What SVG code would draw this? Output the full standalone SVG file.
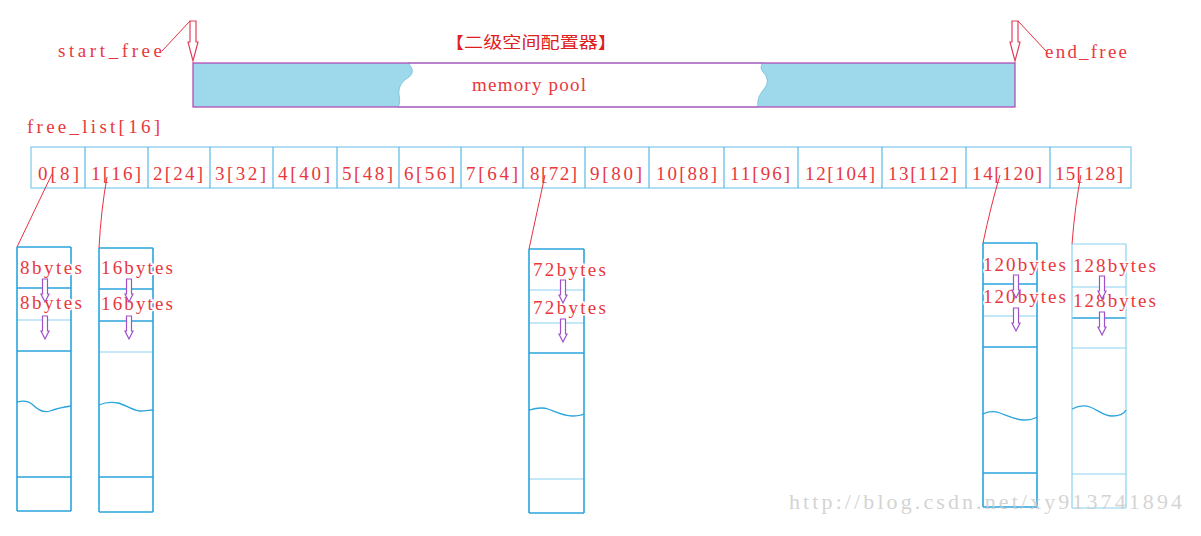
<svg xmlns="http://www.w3.org/2000/svg" xmlns:xlink="http://www.w3.org/1999/xlink" width="1201" height="536" viewBox="0 0 1201 536">
<style>
.t{font-family:"Liberation Serif",serif;font-size:19px;fill:#e8383d;}
.tb{font-family:"Liberation Serif",serif;font-size:19px;fill:#e8383d;stroke:#fff;stroke-width:3px;paint-order:stroke;}
.cell{fill:#fff;stroke:#7cc9ea;stroke-width:1.2;}
.ln{stroke:#2aa4dc;stroke-width:1.6;fill:none;}
.lt{stroke:#8ad2f0;stroke-width:1.2;fill:none;}
.wv{stroke:#2aa4dc;stroke-width:1.3;fill:none;}
.con{stroke:#e83040;stroke-width:1;fill:none;}
.ptr{fill:#fff;stroke:#e0405a;stroke-width:1.2;}
.arr{fill:#fff;stroke:#a050c8;stroke-width:1.2;}
</style>
<defs>
<path id="dn" d="M-2.5,0 H2.5 V15 H4 L0,23 L-4,15 H-2.5 Z"/>
</defs>
<rect width="1201" height="536" fill="#fff"/>

<g id="title">
<text x="445" y="48" font-family="'Noto Sans CJK SC',sans-serif" font-size="16" fill="#e02020" textLength="172" lengthAdjust="spacingAndGlyphs">【二级空间配置器】</text>
</g>

<g id="memory_pool">
<rect x="193" y="63" width="822" height="44" fill="#9dd9ea"/>
<path d="M408,63 C413,68 414,73 409,77 C402,81 398,87 399,95 C400,100 400,104 398,107 L758,107 C757,100 759,95 764,89 C769,83 768,77 763,72 C760,68 761,65 763,63 Z" fill="#fff" stroke="#6bbcd8" stroke-width="0.8"/>
<rect x="193" y="63" width="822" height="44" fill="none" stroke="#b040b0" stroke-width="1.2"/>
<text class="t" x="472" y="91" textLength="114">memory pool</text>
</g>

<g id="start_free">
<text class="t" x="58" y="57" textLength="104">start_free</text>
<path class="ptr" d="M190,21 H196 V42 H198 L193,61 L188,42 H190 Z"/>
</g>

<g id="end_free">
<text class="t" x="1045" y="58" textLength="82">end_free</text>
<path class="ptr" d="M1012,21 H1018 V42 H1020 L1015,61 L1010,42 H1012 Z"/>
</g>

<g id="free_list_label">
<text class="t" x="27" y="133" textLength="133">free_list[16]</text>
</g>

<g id="free_list">
<rect class="cell" x="31" y="147" width="1100" height="41"/>
<g stroke="#5ab9e4" stroke-width="1.2">
<line x1="85" y1="147" x2="85" y2="188"/>
<line x1="148" y1="147" x2="148" y2="188"/>
<line x1="210" y1="147" x2="210" y2="188"/>
<line x1="273" y1="147" x2="273" y2="188"/>
<line x1="337" y1="147" x2="337" y2="188"/>
<line x1="399" y1="147" x2="399" y2="188"/>
<line x1="461" y1="147" x2="461" y2="188"/>
<line x1="523" y1="147" x2="523" y2="188"/>
<line x1="585" y1="147" x2="585" y2="188"/>
<line x1="649" y1="147" x2="649" y2="188"/>
<line x1="724" y1="147" x2="724" y2="188"/>
<line x1="798" y1="147" x2="798" y2="188"/>
<line x1="882" y1="147" x2="882" y2="188"/>
<line x1="966" y1="147" x2="966" y2="188"/>
<line x1="1050" y1="147" x2="1050" y2="188"/>
</g>
<g id="cell0"><text class="t" x="38" y="180" textLength="41">0[8]</text></g>
<g id="cell1"><text class="t" x="91" y="180" textLength="50">1[16]</text></g>
<g id="cell2"><text class="t" x="153" y="180" textLength="50">2[24]</text></g>
<g id="cell3"><text class="t" x="215" y="180" textLength="51">3[32]</text></g>
<g id="cell4"><text class="t" x="278" y="180" textLength="52">4[40]</text></g>
<g id="cell5"><text class="t" x="342" y="180" textLength="51">5[48]</text></g>
<g id="cell6"><text class="t" x="404" y="180" textLength="51">6[56]</text></g>
<g id="cell7"><text class="t" x="466" y="180" textLength="52">7[64]</text></g>
<g id="cell8"><text class="t" x="530" y="180" textLength="47">8[72]</text></g>
<g id="cell9"><text class="t" x="590" y="180" textLength="52">9[80]</text></g>
<g id="cell10"><text class="t" x="656" y="180" textLength="61">10[88]</text></g>
<g id="cell11"><text class="t" x="730" y="180" textLength="60">11[96]</text></g>
<g id="cell12"><text class="t" x="805" y="180" textLength="70">12[104]</text></g>
<g id="cell13"><text class="t" x="888" y="180" textLength="69">13[112]</text></g>
<g id="cell14"><text class="t" x="972" y="180" textLength="70">14[120]</text></g>
<g id="cell15"><text class="t" x="1055" y="180" textLength="68">15[128]</text></g>
</g>

<g id="list0">
<line class="ln" x1="17" y1="247" x2="71" y2="247"/>
<line class="ln" x1="17" y1="288" x2="71" y2="288"/>
<line class="lt" x1="17" y1="320" x2="71" y2="320"/>
<line class="ln" x1="17" y1="351" x2="71" y2="351"/>
<line class="ln" x1="17" y1="477" x2="71" y2="477"/>
<line class="ln" x1="17" y1="511" x2="71" y2="511"/>
<line class="ln" x1="17" y1="247" x2="17" y2="511"/>
<line class="ln" x1="71" y1="247" x2="71" y2="511"/>
<path class="wv" d="M17,402 C24,400 29,401 33,405 C38,410 44,413 50,411 C58,408 64,407 71,406"/>
<text class="tb" x="20" y="274" textLength="62">8bytes</text>
<text class="tb" x="20" y="309" textLength="62">8bytes</text>
<use href="#dn" class="arr" x="45" y="279"/>
<use href="#dn" class="arr" x="45" y="316"/>
</g>

<g id="list1">
<line class="ln" x1="99" y1="248" x2="153" y2="248"/>
<line class="ln" x1="99" y1="289" x2="153" y2="289"/>
<line class="ln" x1="99" y1="321" x2="153" y2="321"/>
<line class="lt" x1="99" y1="352" x2="153" y2="352"/>
<line class="ln" x1="99" y1="477" x2="153" y2="477"/>
<line class="ln" x1="99" y1="512" x2="153" y2="512"/>
<line class="ln" x1="99" y1="248" x2="99" y2="512"/>
<line class="ln" x1="153" y1="248" x2="153" y2="512"/>
<path class="wv" d="M99,405 C106,402 112,402 118,403 C126,405 132,410 140,411 C146,411 150,410 153,410"/>
<text class="tb" x="101" y="274" textLength="72">16bytes</text>
<text class="tb" x="101" y="310" textLength="72">16bytes</text>
<use href="#dn" class="arr" x="129" y="279"/>
<use href="#dn" class="arr" x="129" y="316"/>
</g>

<g id="list8">
<line class="ln" x1="529" y1="249" x2="584" y2="249"/>
<line class="lt" x1="529" y1="290" x2="584" y2="290"/>
<line class="lt" x1="529" y1="323" x2="584" y2="323"/>
<line class="ln" x1="529" y1="353" x2="584" y2="353"/>
<line class="lt" x1="529" y1="479" x2="584" y2="479"/>
<line class="ln" x1="529" y1="513" x2="584" y2="513"/>
<line class="ln" x1="529" y1="249" x2="529" y2="513"/>
<line class="ln" x1="584" y1="249" x2="584" y2="513"/>
<path class="wv" d="M529,410 C536,408 542,407 548,409 C556,412 564,416 572,416 C578,416 582,415 584,414"/>
<text class="tb" x="533" y="276" textLength="73">72bytes</text>
<text class="tb" x="533" y="314" textLength="73">72bytes</text>
<use href="#dn" class="arr" x="563" y="280"/>
<use href="#dn" class="arr" x="563" y="319"/>
</g>

<g id="list14">
<line class="ln" x1="983" y1="243" x2="1037" y2="243"/>
<line class="ln" x1="983" y1="284" x2="1037" y2="284"/>
<line class="lt" x1="983" y1="316" x2="1037" y2="316"/>
<line class="ln" x1="983" y1="347" x2="1037" y2="347"/>
<line class="ln" x1="983" y1="473" x2="1037" y2="473"/>
<line class="ln" x1="983" y1="507" x2="1037" y2="507"/>
<line class="ln" x1="983" y1="243" x2="983" y2="507"/>
<line class="ln" x1="1037" y1="243" x2="1037" y2="507"/>
<path class="wv" d="M983,414 C989,411 994,411 1000,413 C1008,416 1016,420 1024,420 C1030,420 1034,419 1037,417"/>
<text class="tb" x="983" y="271" textLength="83">120bytes</text>
<text class="tb" x="983" y="303" textLength="83">120bytes</text>
<use href="#dn" class="arr" x="1016" y="275"/>
<use href="#dn" class="arr" x="1016" y="308"/>
</g>

<g id="list15">
<line class="lt" x1="1072" y1="244" x2="1126" y2="244"/>
<line class="lt" x1="1072" y1="287" x2="1126" y2="287"/>
<line class="ln" x1="1072" y1="318" x2="1126" y2="318"/>
<line class="lt" x1="1072" y1="348" x2="1126" y2="348"/>
<line class="lt" x1="1072" y1="474" x2="1126" y2="474"/>
<line class="lt" x1="1072" y1="508" x2="1126" y2="508"/>
<line class="lt" x1="1072" y1="244" x2="1072" y2="508"/>
<line class="lt" x1="1126" y1="244" x2="1126" y2="508"/>
<path class="wv" d="M1072,409 C1078,406 1084,405 1090,407 C1098,410 1104,416 1112,416 C1120,416 1124,414 1126,410" stroke="#5ab9e4"/>
<text class="tb" x="1073" y="272" textLength="83">128bytes</text>
<text class="tb" x="1073" y="307" textLength="83">128bytes</text>
<use href="#dn" class="arr" x="1102" y="276"/>
<use href="#dn" class="arr" x="1102" y="312"/>
</g>

<g id="connectors">
<path class="con" d="M162,51 L190,21"/>
<path class="con" d="M1018,21 L1046,51"/>
<path class="con" d="M52,174 L17,247"/>
<path class="con" d="M107,177 Q101,210 99,248"/>
<path class="con" d="M545,175 L529,249"/>
<path class="con" d="M1000,175 Q991,205 983,243"/>
<path class="con" d="M1081,175 Q1075,205 1072,244"/>
</g>

<g id="watermark">
<text x="789" y="509" font-family="'Liberation Serif',serif" font-size="22" fill="#c8c8c8" fill-opacity="0.8" textLength="393">http://blog.csdn.net/xy913741894</text>
</g>
</svg>
